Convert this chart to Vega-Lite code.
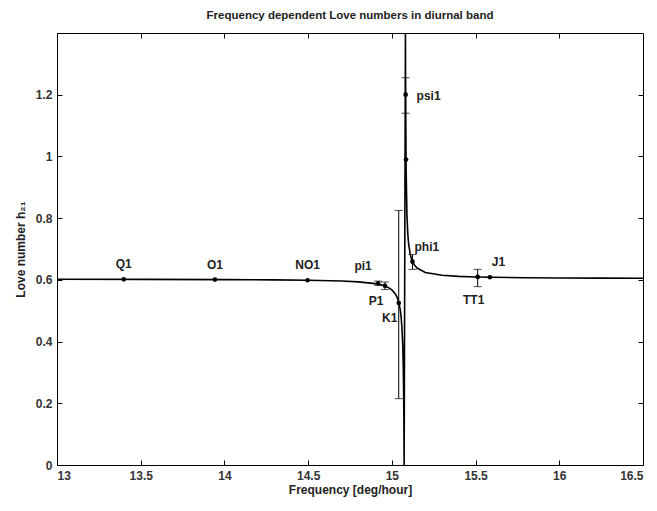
{
  "$schema": "https://vega.github.io/schema/vega-lite/v6.json",
  "width": 586,
  "height": 432,
  "autosize": "none",
  "padding": {"left": 57, "top": 33, "right": 14, "bottom": 46},
  "background": "white",
  "config": {
    "view": {"stroke": "black", "strokeWidth": 1},
    "font": "Liberation Sans",
    "axis": {
      "grid": false,
      "domainColor": "black",
      "tickColor": "black",
      "labelFont": "Liberation Sans",
      "labelFontWeight": "bold",
      "labelFontSize": 12,
      "labelColor": "#333333",
      "titleFont": "Liberation Sans",
      "titleFontWeight": "bold",
      "titleFontSize": 12,
      "titleColor": "#222222"
    }
  },
  "title": {
    "text": "Frequency dependent Love numbers in diurnal band",
    "font": "Liberation Sans",
    "fontSize": 11.5,
    "fontWeight": "bold",
    "color": "#222222",
    "offset": 11
  },
  "datasets": {
    "curve": [
      {"f": 13.0, "h": 0.6022}, {"f": 13.5, "h": 0.6017}, {"f": 14.0, "h": 0.6009},
      {"f": 14.3, "h": 0.5999}, {"f": 14.5, "h": 0.5987}, {"f": 14.7, "h": 0.5961},
      {"f": 14.8, "h": 0.5934}, {"f": 14.9, "h": 0.5878}, {"f": 14.95, "h": 0.5816},
      {"f": 14.98, "h": 0.5749}, {"f": 15.0, "h": 0.5676}, {"f": 15.02, "h": 0.5552},
      {"f": 15.03, "h": 0.5452}, {"f": 15.04, "h": 0.5298}, {"f": 15.05, "h": 0.5035},
      {"f": 15.055, "h": 0.4818}, {"f": 15.06, "h": 0.4479}, {"f": 15.065, "h": 0.3881},
      {"f": 15.068, "h": 0.3235}, {"f": 15.07, "h": 0.2535}, {"f": 15.072, "h": 0.1368},
      {"f": 15.073, "h": 0.0435}, {"f": 15.0734, "h": 0.0},
      {"f": 15.0811, "h": 1.4}, {"f": 15.082, "h": 1.2285}, {"f": 15.085, "h": 0.9606},
      {"f": 15.09, "h": 0.8118}, {"f": 15.095, "h": 0.7506}, {"f": 15.1, "h": 0.7171},
      {"f": 15.11, "h": 0.6816}, {"f": 15.12, "h": 0.663}, {"f": 15.13, "h": 0.6516},
      {"f": 15.15, "h": 0.6382}, {"f": 15.2, "h": 0.624}, {"f": 15.3, "h": 0.6148},
      {"f": 15.4, "h": 0.6113}, {"f": 15.5, "h": 0.6094}, {"f": 15.6, "h": 0.6083},
      {"f": 15.8, "h": 0.607}, {"f": 16.0, "h": 0.6062}, {"f": 16.25, "h": 0.6056},
      {"f": 16.5, "h": 0.6053}
    ],
    "pts": [
      {"name": "Q1", "f": 13.3987, "h": 0.6018, "lo": null, "hi": null, "place": "above"},
      {"name": "O1", "f": 13.943, "h": 0.601, "lo": null, "hi": null, "place": "above"},
      {"name": "NO1", "f": 14.4967, "h": 0.5987, "lo": null, "hi": null, "place": "above"},
      {"name": "pi1", "f": 14.9179, "h": 0.589, "lo": 0.582, "hi": 0.596, "place": "aboveleft"},
      {"name": "P1", "f": 14.9589, "h": 0.581, "lo": 0.569, "hi": 0.593, "place": "belowleft"},
      {"name": "K1", "f": 15.0411, "h": 0.525, "lo": 0.215, "hi": 0.825, "place": "belowleft"},
      {"name": "", "f": 15.0845, "h": 0.99, "lo": null, "hi": null, "place": "none"},
      {"name": "psi1", "f": 15.0821, "h": 1.2, "lo": 1.14, "hi": 1.255, "place": "right"},
      {"name": "phi1", "f": 15.1232, "h": 0.659, "lo": 0.634, "hi": 0.682, "place": "aboveright"},
      {"name": "TT1", "f": 15.5126, "h": 0.6094, "lo": 0.578, "hi": 0.634, "place": "below"},
      {"name": "J1", "f": 15.5854, "h": 0.6084, "lo": null, "hi": null, "place": "aboveright"}
    ]
  },
  "layer": [
    {
      "data": {"name": "curve"},
      "mark": {"type": "line", "color": "black", "strokeWidth": 1.6, "clip": true},
      "encoding": {
        "x": {
          "field": "f", "type": "quantitative",
          "scale": {"domain": [13, 16.5], "nice": false, "zero": false},
          "axis": {"title": "Frequency [deg/hour]", "values": [13, 13.5, 14, 14.5, 15, 15.5, 16, 16.5], "format": "~g", "tickSize": -5, "labelPadding": 10, "titlePadding": 3}
        },
        "y": {
          "field": "h", "type": "quantitative",
          "scale": {"domain": [0, 1.4], "nice": false},
          "axis": {"title": "Love number h₂₁", "values": [0, 0.2, 0.4, 0.6, 0.8, 1, 1.2], "format": "~g", "tickSize": -5, "labelPadding": 10, "titlePadding": 8}
        }
      }
    },
    {
      "data": {"name": "curve"},
      "mark": {"type": "line", "strokeOpacity": 0},
      "encoding": {
        "x": {"field": "f", "type": "quantitative", "axis": {"orient": "top", "title": null, "labels": false, "domain": false, "values": [13.5, 14, 14.5, 15, 15.5, 16], "tickSize": -5}},
        "y": {"field": "h", "type": "quantitative", "axis": {"orient": "right", "title": null, "labels": false, "domain": false, "values": [0.2, 0.4, 0.6, 0.8, 1, 1.2], "tickSize": -5}}
      }
    },
    {
      "data": {"name": "pts"},
      "transform": [{"filter": "isValid(datum.lo)"}],
      "mark": {"type": "errorbar", "ticks": {"size": 8, "color": "black", "strokeWidth": 1}, "rule": {"color": "black", "strokeWidth": 1}},
      "encoding": {
        "x": {"field": "f", "type": "quantitative", "axis": null},
        "y": {"field": "lo", "type": "quantitative", "axis": null},
        "y2": {"field": "hi"}
      }
    },
    {
      "data": {"name": "pts"},
      "mark": {"type": "circle", "color": "black", "opacity": 1, "size": 22},
      "encoding": {
        "x": {"field": "f", "type": "quantitative", "axis": null},
        "y": {"field": "h", "type": "quantitative", "axis": null}
      }
    },
    {
      "data": {"name": "pts"},
      "transform": [{"filter": "datum.place == 'above'"}],
      "mark": {"type": "text", "dy": -15, "align": "center", "font": "Liberation Sans", "fontWeight": "bold", "fontSize": 12, "color": "#222222"},
      "encoding": {"x": {"field": "f", "type": "quantitative", "axis": null}, "y": {"field": "h", "type": "quantitative", "axis": null}, "text": {"field": "name"}}
    },
    {
      "data": {"name": "pts"},
      "transform": [{"filter": "datum.place == 'aboveleft'"}],
      "mark": {"type": "text", "dy": -17, "dx": -15, "align": "center", "font": "Liberation Sans", "fontWeight": "bold", "fontSize": 12, "color": "#222222"},
      "encoding": {"x": {"field": "f", "type": "quantitative", "axis": null}, "y": {"field": "h", "type": "quantitative", "axis": null}, "text": {"field": "name"}}
    },
    {
      "data": {"name": "pts"},
      "transform": [{"filter": "datum.place == 'belowleft'"}],
      "mark": {"type": "text", "dy": 15, "dx": -9, "align": "center", "font": "Liberation Sans", "fontWeight": "bold", "fontSize": 12, "color": "#222222"},
      "encoding": {"x": {"field": "f", "type": "quantitative", "axis": null}, "y": {"field": "h", "type": "quantitative", "axis": null}, "text": {"field": "name"}}
    },
    {
      "data": {"name": "pts"},
      "transform": [{"filter": "datum.place == 'right'"}],
      "mark": {"type": "text", "dy": 1, "dx": 11, "align": "left", "font": "Liberation Sans", "fontWeight": "bold", "fontSize": 12, "color": "#222222"},
      "encoding": {"x": {"field": "f", "type": "quantitative", "axis": null}, "y": {"field": "h", "type": "quantitative", "axis": null}, "text": {"field": "name"}}
    },
    {
      "data": {"name": "pts"},
      "transform": [{"filter": "datum.place == 'aboveright'"}],
      "mark": {"type": "text", "dy": -15, "dx": 2, "align": "left", "font": "Liberation Sans", "fontWeight": "bold", "fontSize": 12, "color": "#222222"},
      "encoding": {"x": {"field": "f", "type": "quantitative", "axis": null}, "y": {"field": "h", "type": "quantitative", "axis": null}, "text": {"field": "name"}}
    },
    {
      "data": {"name": "pts"},
      "transform": [{"filter": "datum.place == 'below'"}],
      "mark": {"type": "text", "dy": 23, "dx": -4, "align": "center", "font": "Liberation Sans", "fontWeight": "bold", "fontSize": 12, "color": "#222222"},
      "encoding": {"x": {"field": "f", "type": "quantitative", "axis": null}, "y": {"field": "h", "type": "quantitative", "axis": null}, "text": {"field": "name"}}
    }
  ],
  "resolve": {"axis": {"x": "independent", "y": "independent"}}
}
